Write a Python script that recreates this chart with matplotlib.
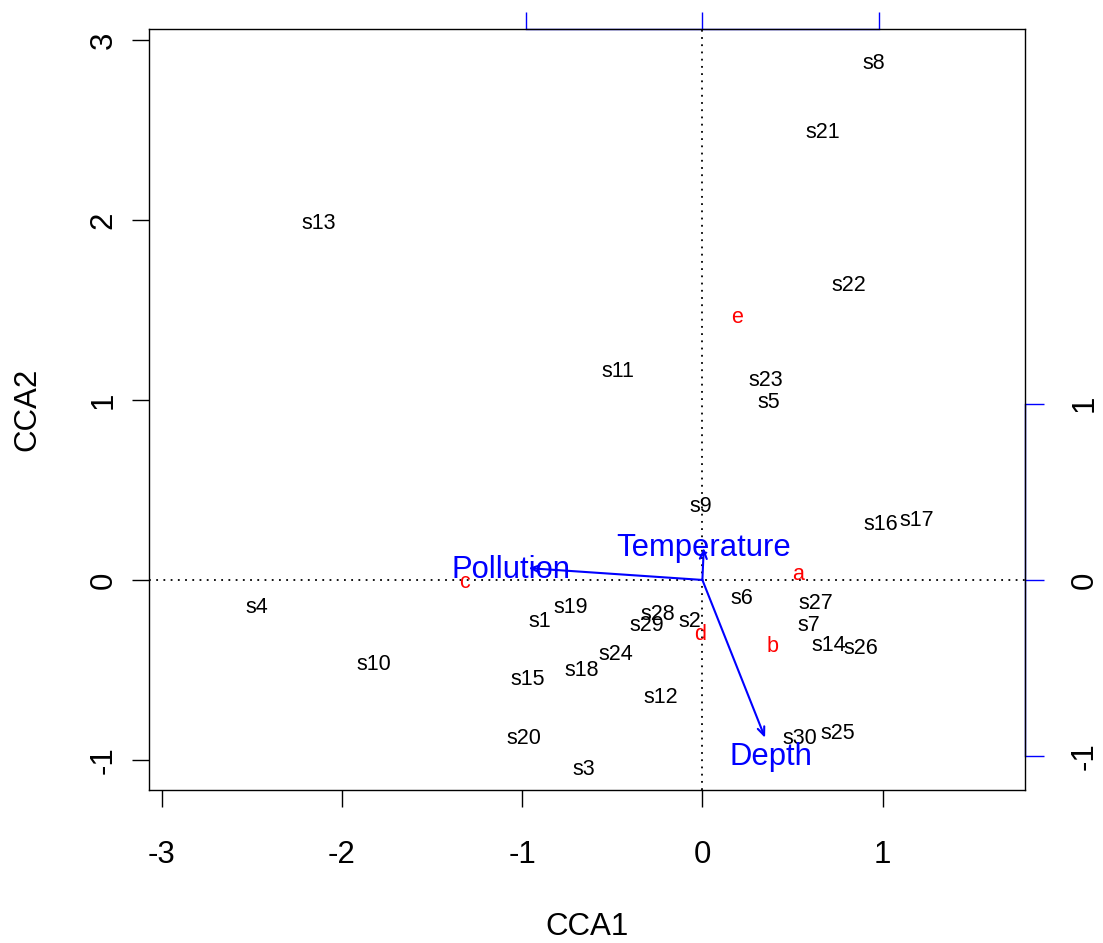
import matplotlib
matplotlib.use('Agg')
import matplotlib.pyplot as plt
import numpy as np

plt.rcParams['font.family'] = ['Liberation Sans', 'DejaVu Sans']

# site scores (CCA1, CCA2)
site_names = ['s1', 's2', 's3', 's4', 's5', 's6', 's7', 's8', 's9', 's10',
              's11', 's12', 's13', 's14', 's15', 's16', 's17', 's18', 's19',
              's20', 's21', 's22', 's23', 's24', 's25', 's26', 's27', 's28',
              's29', 's30']
site_x = [-0.90, -0.07, -0.66, -2.47, 0.37, 0.22, 0.59, 0.95, -0.01, -1.82,
          -0.47, -0.23, -2.13, 0.70, -0.97, 0.99, 1.19, -0.67, -0.73,
          -0.99, 0.67, 0.81, 0.35, -0.48, 0.75, 0.88, 0.63, -0.25,
          -0.31, 0.54]
site_y = [-0.22, -0.22, -1.04, -0.14, 1.00, -0.09, -0.24, 2.88, 0.42, -0.46,
          1.17, -0.64, 1.99, -0.35, -0.54, 0.32, 0.34, -0.49, -0.14,
          -0.87, 2.50, 1.65, 1.12, -0.40, -0.84, -0.37, -0.12, -0.18,
          -0.24, -0.87]

# species scores
species_names = ['a', 'b', 'c', 'd', 'e']
species_x = [0.53, 0.39, -1.32, -0.01, 0.19]
species_y = [0.04, -0.36, 0.00, -0.29, 1.47]

# biplot scores of the environmental variables
env_names = ['Pollution', 'Temperature', 'Depth']
env_x = [-0.985, 0.008, 0.355]
env_y = [0.067, 0.182, -0.895]
arrow_mul = 0.98

blue = '#0000ff'
red = '#ff0000'


def label(ax, x, y, s, size, color):
    # centre the cap height on the point, like R's text()
    ax.annotate(s, (x, y), xytext=(0, -0.358 * size),
                textcoords='offset points', ha='center', va='baseline',
                fontsize=size, color=color)


fig = plt.figure(figsize=(11.03, 9.43), dpi=100)
ax = fig.add_axes([0.1351, 0.1622, 0.7942, 0.8070])
ax.set_xlim(-3.07, 1.79)
ax.set_ylim(-1.167, 3.06)

# dotted origin lines
ax.axhline(0, color='black', lw=1.3, linestyle=(0, (1, 3)))
ax.axvline(0, color='black', lw=1.3, linestyle=(0, (1, 3)))

for name, x, y in zip(site_names, site_x, site_y):
    label(ax, x, y, name, 15.5, 'black')

for name, x, y in zip(species_names, species_x, species_y):
    label(ax, x, y, name, 15.5, red)

# environmental arrows, labels a bit beyond the tips
for name, x, y in zip(env_names, env_x, env_y):
    tx, ty = x * arrow_mul, y * arrow_mul
    ax.annotate('', xy=(tx, ty), xytext=(0, 0),
                arrowprops=dict(arrowstyle='->,head_length=0.6,head_width=0.25',
                                color=blue, lw=1.5, shrinkA=0, shrinkB=0))
    label(ax, tx * 1.1, ty * 1.1, name, 22.3, blue)

# axes styling, R-like
for sp in ax.spines.values():
    sp.set_linewidth(1.0)
ax.set_xticks([-3, -2, -1, 0, 1])
ax.set_yticks([-1, 0, 1, 2, 3])
ax.set_xticklabels(['-3', '-2', '-1', '0', '1'])
ax.set_yticklabels(['-1', '0', '1', '2', '3'])
ax.tick_params(axis='both', direction='out', length=12, width=1.0,
               labelsize=22.5)
ax.tick_params(axis='x', pad=24)
ax.tick_params(axis='y', pad=10, labelrotation=90)
for lab in ax.get_yticklabels():
    lab.set_va('center')
ax.set_xlabel('CCA1', fontsize=22.5, labelpad=30)
ax.set_ylabel('CCA2', fontsize=22.5, labelpad=33)

# scale of the arrows on top and right
top = ax.secondary_xaxis('top', functions=(lambda v: v / arrow_mul,
                                           lambda v: v * arrow_mul))
top.set_xticks([-1, 0, 1])
top.tick_params(axis='x', direction='out', length=12, width=1.0,
                color=blue, labeltop=False)
top.spines['top'].set_color(blue)
top.spines['top'].set_linewidth(1.0)
top.spines['top'].set_bounds(-1, 1)

right = ax.secondary_yaxis('right', functions=(lambda v: v / arrow_mul,
                                               lambda v: v * arrow_mul))
right.set_yticks([-1, 0, 1])
right.set_yticklabels(['-1', '0', '1'])
right.tick_params(axis='y', direction='out', length=14, width=1.0,
                  color=blue, labelsize=22.5, pad=18, labelrotation=90)
for lab in right.get_yticklabels():
    lab.set_va('center')
right.spines['right'].set_color(blue)
right.spines['right'].set_linewidth(1.0)
right.spines['right'].set_bounds(-1, 1)

fig.savefig('out.png', dpi=100)
